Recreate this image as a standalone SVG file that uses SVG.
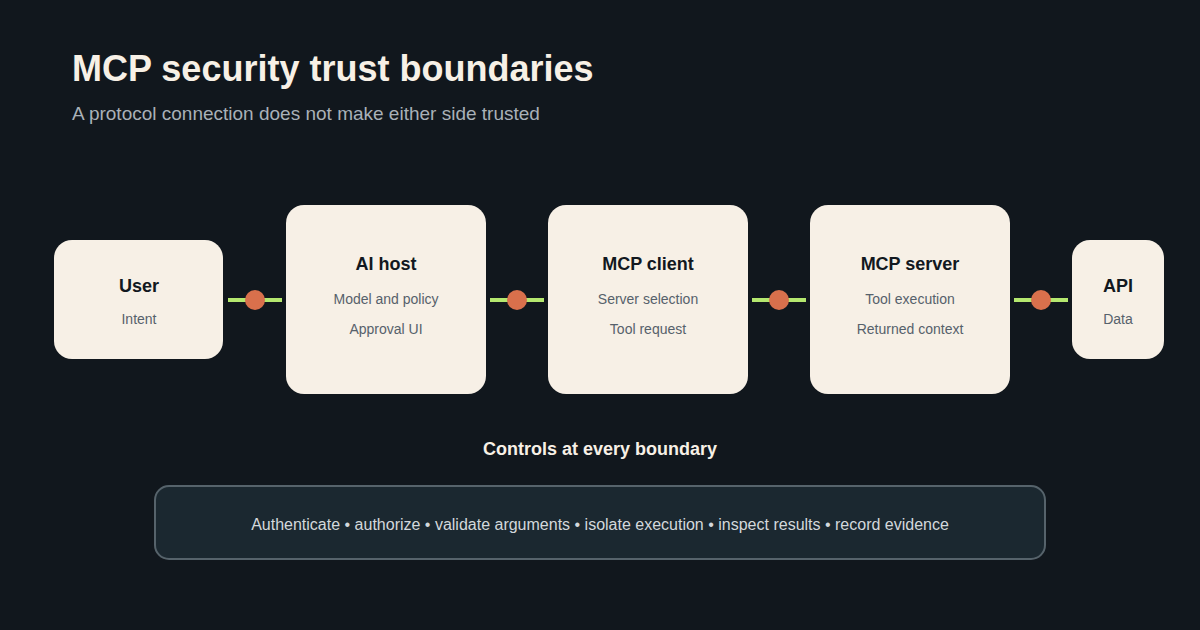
<svg xmlns="http://www.w3.org/2000/svg" width="1200" height="630" viewBox="0 0 1200 630">
<style>
text{font-family:"Liberation Sans",Arial,sans-serif}
.n{fill:#f7f0e6}
.t{font-size:18px;font-weight:bold;fill:#121820;text-anchor:middle}
.s{font-size:14px;fill:#56616b;text-anchor:middle}
.l{stroke:#b5e86f;stroke-width:4}
.d{fill:#d9704c}
</style>
<rect width="1200" height="630" fill="#11171d"/>
<text x="72" y="81" font-size="36" font-weight="bold" fill="#f7f0e6">MCP security trust boundaries</text>
<text x="72" y="120" font-size="19" fill="#a9b1b8">A protocol connection does not make either side trusted</text>
<g id="connectors">
<line class="l" x1="228" y1="300" x2="282" y2="300"/><circle class="d" cx="255" cy="300" r="10"/>
<line class="l" x1="490" y1="300" x2="544" y2="300"/><circle class="d" cx="517" cy="300" r="10"/>
<line class="l" x1="752" y1="300" x2="806" y2="300"/><circle class="d" cx="779" cy="300" r="10"/>
<line class="l" x1="1014" y1="300" x2="1068" y2="300"/><circle class="d" cx="1041" cy="300" r="10"/>
</g>
<g id="user"><rect class="n" x="54" y="240" width="169" height="119" rx="18"/><text class="t" x="139" y="292">User</text><text class="s" x="139" y="324">Intent</text></g>
<g id="aihost"><rect class="n" x="286" y="205" width="200" height="189" rx="18"/><text class="t" x="386" y="270">AI host</text><text class="s" x="386" y="304">Model and policy</text><text class="s" x="386" y="334">Approval UI</text></g>
<g id="client"><rect class="n" x="548" y="205" width="200" height="189" rx="18"/><text class="t" x="648" y="270">MCP client</text><text class="s" x="648" y="304">Server selection</text><text class="s" x="648" y="334">Tool request</text></g>
<g id="server"><rect class="n" x="810" y="205" width="200" height="189" rx="18"/><text class="t" x="910" y="270">MCP server</text><text class="s" x="910" y="304">Tool execution</text><text class="s" x="910" y="334">Returned context</text></g>
<g id="api"><rect class="n" x="1072" y="240" width="92" height="119" rx="18"/><text class="t" x="1118" y="292">API</text><text class="s" x="1118" y="324">Data</text></g>
<text x="600" y="455" font-size="18" font-weight="bold" fill="#f7f0e6" text-anchor="middle">Controls at every boundary</text>
<g id="controls"><rect x="155" y="486" width="890" height="73" rx="14" fill="#1b2830" stroke="#56636b" stroke-width="2"/>
<text x="600" y="530" font-size="16" fill="#d3d8dc" text-anchor="middle">Authenticate • authorize • validate arguments • isolate execution • inspect results • record evidence</text></g>
</svg>
